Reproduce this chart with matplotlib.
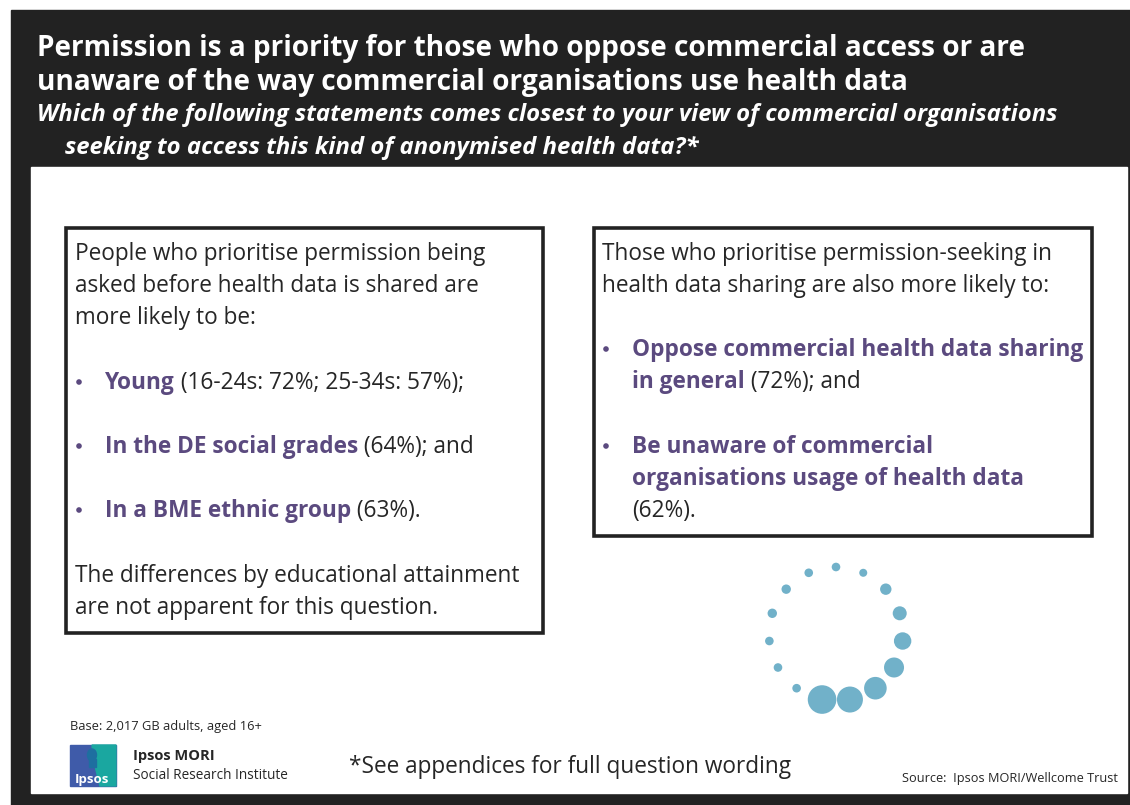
import numpy as np
import matplotlib.pyplot as plt
from matplotlib.patches import Rectangle, Circle, Polygon, Ellipse

# Text content
title_lines = ["Permission is a priority for those who oppose commercial access or are",
               "unaware of the way commercial organisations use health data"]
question_lines = ["Which of the following statements comes closest to your view of commercial organisations",
                  "seeking to access this kind of anonymised health data?*"]

left_intro = ["People who prioritise permission being",
              "asked before health data is shared are",
              "more likely to be:"]
left_bold = ["Young", "In the DE social grades", "In a BME ethnic group"]
left_rest = [" (16-24s: 72%; 25-34s: 57%);", " (64%); and", " (63%)."]
left_outro = ["The differences by educational attainment",
              "are not apparent for this question."]

right_intro = ["Those who prioritise permission-seeking in",
               "health data sharing are also more likely to:"]
right_bullets = [
    [("Oppose commercial health data sharing", ""), ("in general", " (72%); and")],
    [("Be unaware of commercial", ""), ("organisations usage of health data", ""), ("", "(62%).")],
]

# relative sizes of the ring of dots, clockwise from the top
dot_sizes = [4.3, 4.0, 5.7, 7.0, 8.7, 10.0, 11.3, 13.0, 14.3, 4.3, 4.3, 4.3, 4.7, 4.7, 4.3]

base_note = "Base: 2,017 GB adults, aged 16+"
footnote = "*See appendices for full question wording"
source_note = "Source:  Ipsos MORI/Wellcome Trust"

DARK = '#222222'
PURPLE = '#5b4a7f'
TEXT = '#262626'
DOT = '#71b1c9'
FONT = 'Open Sans'

W, H = 1130, 805
fig = plt.figure(figsize=(11.3, 8.05), dpi=100)
ax = fig.add_axes([0, 0, 1, 1])
ax.set_xlim(0, W)
ax.set_ylim(H, 0)
ax.axis('off')
r = fig.canvas.get_renderer()

# background frame
ax.add_patch(Rectangle((11, 10), W - 11, H - 10, color=DARK, zorder=0))
ax.add_patch(Rectangle((31, 167), 1096, 626, color='white', zorder=1))

# title block
for i, line in enumerate(title_lines):
    ax.text(37, 56 + i * 34, line, color='white', fontsize=20.2, fontweight='bold',
            family=FONT, va='baseline', zorder=3)
for i, line in enumerate(question_lines):
    ax.text(37 + i * 28, 121 + i * 33, line, color='white', fontsize=17.2,
            fontweight='bold', style='italic', family=FONT, va='baseline', zorder=3)

# boxes
ax.add_patch(Rectangle((66, 228), 477, 405, fill=False, ec=DARK, lw=2.6, zorder=2))
ax.add_patch(Rectangle((594, 228), 498, 308, fill=False, ec=DARK, lw=2.6, zorder=2))

FS = 16.3


def rich(x, y, parts):
    # draw bold-purple / plain segments one after another on a line
    for txt, bold in parts:
        if not txt:
            continue
        t = ax.text(x, y, txt, fontsize=FS, family=FONT, va='baseline', zorder=3,
                    color=PURPLE if bold else TEXT,
                    fontweight='bold' if bold else 'normal')
        x += t.get_window_extent(r).width


def bullet(x, y):
    # round bullet sitting at mid x-height
    ax.add_patch(Circle((x + 4, y - 7), 2.8, color=PURPLE, ec='none', zorder=3))


# left box
for i, line in enumerate(left_intro):
    rich(75, 260 + i * 32, [(line, False)])
for i, (b, rest) in enumerate(zip(left_bold, left_rest)):
    y = 389 + i * 64
    bullet(75, y)
    rich(105, y, [(b, True), (rest, False)])
for i, line in enumerate(left_outro):
    rich(75, 582 + i * 32, [(line, False)])

# right box
for i, line in enumerate(right_intro):
    rich(602, 260 + i * 32, [(line, False)])
y = 356
for item in right_bullets:
    bullet(602, y)
    for b, rest in item:
        rich(632, y, [(b, True), (rest, False)])
        y += 32
    y += 33

# ring of dots
cx, cy, rad = 836, 634, 67
for k, s in enumerate(dot_sizes):
    a = np.deg2rad(k * 360 / len(dot_sizes))
    ax.add_patch(Circle((cx + rad * np.sin(a), cy - rad * np.cos(a)), s,
                        color=DOT, ec='none', zorder=3))

# footer
ax.text(70, 730, base_note, fontsize=9.3, family=FONT, color=TEXT, va='baseline', zorder=3)
ax.text(349, 773, footnote, fontsize=16.3, family=FONT, color=TEXT, va='baseline', zorder=3)
ax.text(1118, 782, source_note, fontsize=9.2, family=FONT, color=TEXT,
        ha='right', va='baseline', zorder=3)

# Ipsos logo
ax.add_patch(Rectangle((70, 745), 46, 41, color='#3f5ba9', zorder=3))
ax.add_patch(Polygon([(92, 745), (116, 745), (116, 786), (100, 786), (96, 770), (93, 757)],
                     color='#1aa7a0', zorder=3))
ax.add_patch(Ellipse((92, 755), 9, 12, color='#1e6fa0', zorder=4))
ax.add_patch(Rectangle((89, 759), 7, 8, color='#1e6fa0', zorder=4))
ax.text(92, 783, 'Ipsos', fontsize=9.5, fontweight='bold', color='white', family=FONT,
        ha='center', va='baseline', zorder=5)
ax.text(133, 760, 'Ipsos MORI', fontsize=10.5, fontweight='bold', family=FONT,
        color=TEXT, va='baseline', zorder=3)
ax.text(133, 779, 'Social Research Institute', fontsize=9.8, family=FONT,
        color=TEXT, va='baseline', zorder=3)

plt.savefig('out.png', dpi=100)
